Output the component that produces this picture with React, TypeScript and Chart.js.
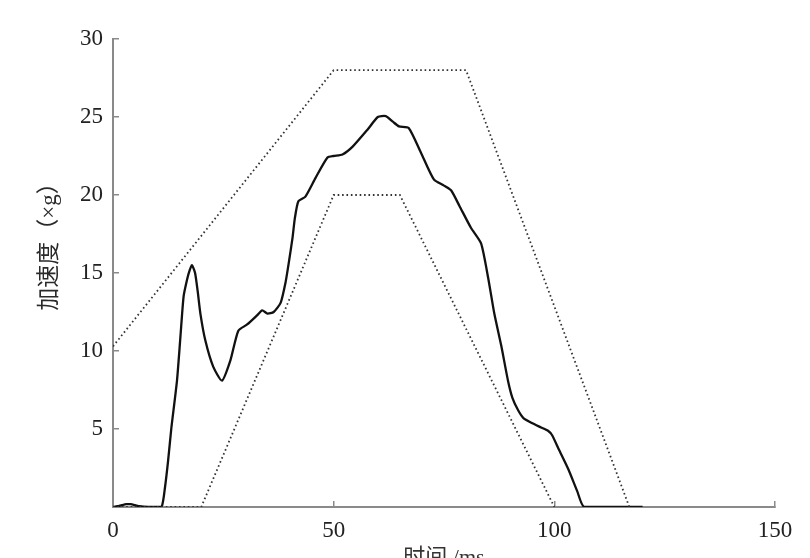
import React, { useEffect, useRef } from "react";
import { Chart, registerables } from "chart.js";

Chart.register(...registerables);

// Measured acceleration pulse (time in ms, acceleration in g)
const timeMeasured = [0, 1, 2, 3, 4, 5, 6, 7, 9, 11, 11.8, 12.5, 13.2, 14.5, 15.3, 16, 16.8, 17.4, 17.9, 18.6, 19.2, 19.8, 20.9, 22.7, 24.7, 26.6, 28.4, 30.4, 32.7, 33.8, 35, 36.4, 38, 39.1, 39.8, 40.7, 41.2, 42, 43.6, 45.9, 48.6, 50, 52, 54.3, 57.7, 60, 61.8, 63.4, 64.8, 67, 69.8, 72.7, 75, 76.6, 78.5, 81.1, 83.4, 85, 86.4, 88, 89.5, 90.5, 91.8, 93, 94.8, 97, 98.5, 99.5, 101, 103.2, 105.2, 106.8, 120];
const accelMeasured = [0, 0.05, 0.12, 0.18, 0.18, 0.12, 0.05, 0.02, 0, 0, 1.3, 3, 5, 8.1, 11, 13.5, 14.6, 15.2, 15.5, 15.0, 13.8, 12.4, 10.7, 9.0, 8.1, 9.4, 11.3, 11.7, 12.3, 12.6, 12.4, 12.5, 13.1, 14.4, 15.6, 17.3, 18.5, 19.6, 19.9, 21.1, 22.4, 22.5, 22.6, 23.1, 24.2, 25, 25.06, 24.7, 24.4, 24.3, 22.7, 21, 20.6, 20.3, 19.3, 17.9, 16.9, 14.7, 12.4, 10.3, 8.1, 7.0, 6.2, 5.7, 5.4, 5.1, 4.9, 4.6, 3.7, 2.4, 1.0, 0, 0];

// Upper corridor
const timeUpper = [0, 50, 80, 117];
const accelUpper = [10.3, 28, 28, 0];

// Lower corridor
const timeLower = [0, 20, 50, 65, 100];
const accelLower = [0, 0, 20, 20, 0];

const xTicks = [0, 50, 100, 150];
const yTicks = [5, 10, 15, 20, 25, 30];

const xTitle = "时间 /ms";
const yTitle = "加速度（×g）";

const toPoints = (xs: number[], ys: number[]) => xs.map((x, i) => ({ x, y: ys[i] }));

const tickFont = { family: "'Liberation Serif', 'DejaVu Serif', serif", size: 23 };
const axisGray = "#8a8a8a";

const yTitlePlugin = {
  id: "yTitlePlugin",
  afterDraw(chart: any) {
    const { ctx } = chart;
    ctx.save();
    ctx.translate(50, 241);
    ctx.rotate(-Math.PI / 2);
    ctx.font = "23px 'Liberation Serif', 'Noto Sans CJK SC', serif";
    ctx.fillStyle = "#2a2a2a";
    ctx.textAlign = "center";
    ctx.textBaseline = "middle";
    ctx.fillText(yTitle, 0, 0);
    ctx.restore();
  },
};

export default function App() {
  const ref = useRef<HTMLCanvasElement | null>(null);
  useEffect(() => {
    if (!ref.current) return;
    const chart = new Chart(ref.current, {
      type: "line",
      data: {
        datasets: [
          {
            data: toPoints(timeUpper, accelUpper),
            borderColor: "#333",
            borderWidth: 1.8,
            borderDash: [1.6, 2.8],
            pointRadius: 0,
            tension: 0,
          },
          {
            data: toPoints(timeLower, accelLower),
            borderColor: "#333",
            borderWidth: 1.8,
            borderDash: [1.6, 2.8],
            pointRadius: 0,
            tension: 0,
          },
          {
            data: toPoints(timeMeasured, accelMeasured),
            borderColor: "#111",
            borderWidth: 2.3,
            pointRadius: 0,
            tension: 0.2,
          },
        ],
      },
      options: {
        animation: false,
        responsive: false,
        layout: { padding: { left: 0, top: 39, right: 35, bottom: 0 } },
        plugins: { legend: { display: false }, tooltip: { enabled: false } },
        scales: {
          x: {
            type: "linear",
            min: 0,
            max: 150,
            afterFit: (s: any) => { s.height = 51; },
            afterBuildTicks: (s: any) => { s.ticks = xTicks.map((v) => ({ value: v })); },
            grid: { drawOnChartArea: false, drawTicks: true, tickLength: -6, color: axisGray, lineWidth: 1.5 },
            border: { display: true, color: axisGray, width: 2 },
            ticks: { font: tickFont, color: "#222", padding: 16, maxRotation: 0 },
            title: {
              display: true,
              text: xTitle,
              font: { family: "'Liberation Serif', 'Noto Sans CJK SC', serif", size: 22 },
              color: "#333",
              padding: { top: 0, bottom: -13 },
            },
          },
          y: {
            type: "linear",
            min: 0,
            max: 30,
            afterFit: (s: any) => { s.width = 113; },
            afterBuildTicks: (s: any) => { s.ticks = yTicks.map((v) => ({ value: v })); },
            grid: { drawOnChartArea: false, drawTicks: true, tickLength: -6, color: axisGray, lineWidth: 1.5 },
            border: { display: true, color: axisGray, width: 2 },
            ticks: { font: tickFont, color: "#222", padding: 16 },
          },
        },
      },
      plugins: [yTitlePlugin],
    });
    return () => chart.destroy();
  }, []);
  return (
    <div style={{ position: "fixed", left: 0, top: 0, width: 810, height: 558, background: "#fff" }}>
      <canvas ref={ref} width={810} height={558} style={{ display: "block" }} />
    </div>
  );
}
